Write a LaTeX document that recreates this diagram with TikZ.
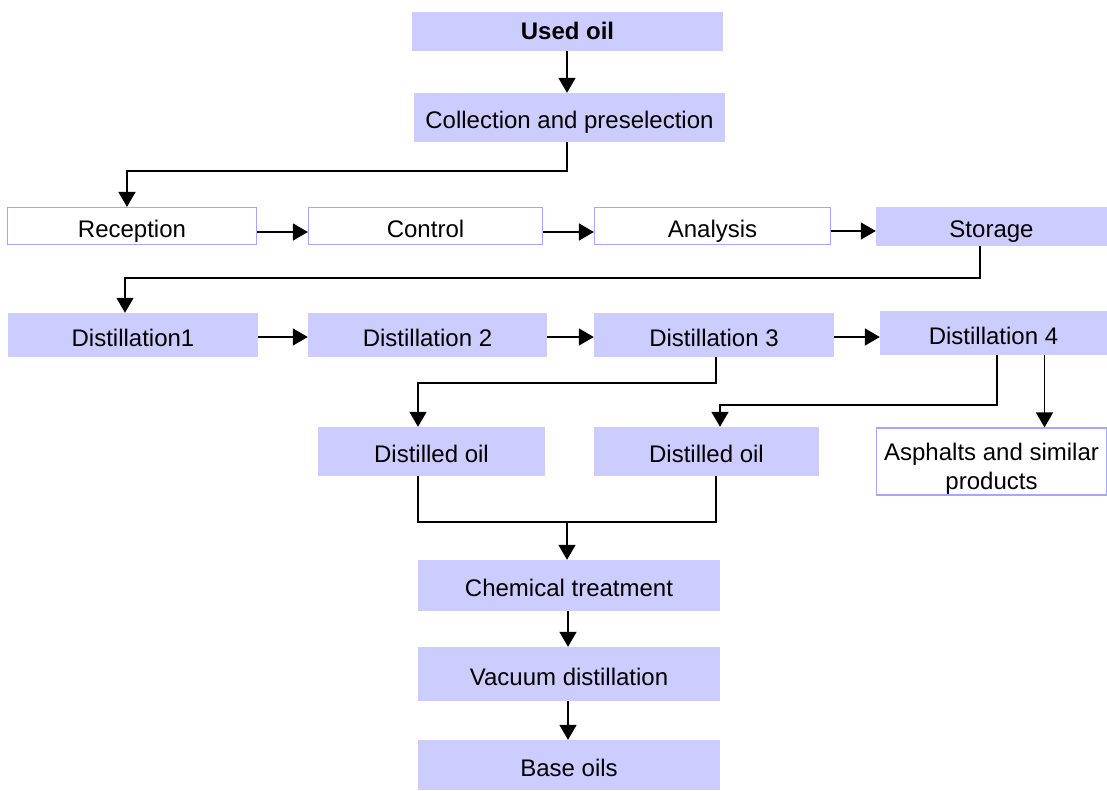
\documentclass[tikz,border=0pt]{standalone}
\usepackage{fontspec}
\setmainfont{Liberation Sans}
\usetikzlibrary{arrows.meta}
\definecolor{lav}{HTML}{CCCCFF}
\definecolor{lavline}{HTML}{A6A6FF}
\begin{document}
\begin{tikzpicture}[x=1pt,y=-1pt,
  every node/.style={font=\fontsize{24}{29}\selectfont, inner sep=0pt, text=black},
  oneline/.style={text height=22pt, text depth=0pt},
  fbox/.style={fill=lav, draw=none, oneline},
  wbox/.style={fill=white, draw=lavline, line width=1.2pt, oneline},
  wboxml/.style={fill=white, draw=lavline, line width=1.2pt, align=center},
  arr/.style={line width=1.6pt, -{Triangle[length=15pt,width=17pt]}},
  ln/.style={line width=1.6pt}]
\useasboundingbox (0,0) rectangle (1107,790);
\node[fbox, minimum width=311pt, minimum height=39pt, text depth=7pt] (used) at (567.5,31.5) {\textbf{Used oil}};
\node[fbox, minimum width=311pt, minimum height=49pt] (coll) at (569.5,117.5) {Collection and preselection};
\node[wbox, minimum width=249pt, minimum height=37pt] (rec) at (132,226) {Reception};
\node[wbox, minimum width=234pt, minimum height=37pt] (ctl) at (425.5,226) {Control};
\node[wbox, minimum width=236pt, minimum height=37pt] (ana) at (712.5,226) {Analysis};
\node[fbox, minimum width=231pt, minimum height=39pt] (sto) at (991.5,226.5) {Storage};
\node[fbox, minimum width=250pt, minimum height=44pt] (d1) at (133,335) {Distillation1};
\node[fbox, minimum width=239pt, minimum height=44pt] (d2) at (427.5,335) {Distillation 2};
\node[fbox, minimum width=240pt, minimum height=44pt] (d3) at (714,335) {Distillation 3};
\node[fbox, minimum width=227pt, minimum height=44pt] (d4) at (993.5,333) {Distillation 4};
\node[fbox, minimum width=227pt, minimum height=49pt] (do1) at (431.5,451.5) {Distilled oil};
\node[fbox, minimum width=225pt, minimum height=49pt] (do2) at (706.5,451.5) {Distilled oil};
\node[wboxml, minimum width=230pt, minimum height=67pt] (asp) at (991.5,461.5) {\rule{0pt}{31pt}Asphalts and similar\\products};
\node[fbox, minimum width=302pt, minimum height=51pt] (chem) at (569,585.5) {Chemical treatment};
\node[fbox, minimum width=302pt, minimum height=54pt] (vac) at (569,674) {Vacuum distillation};
\node[fbox, minimum width=302pt, minimum height=50pt] (base) at (569,765) {Base oils};
% connectors
\coordinate (j1) at (127,171);
\coordinate (j2) at (125,278);
\coordinate (j3) at (418,383);
\coordinate (j4) at (720,405);
\coordinate (j5) at (418,522);
\coordinate (j6) at (716,522);
\coordinate (j7) at (567,522);
\draw[arr] ([xshift=-0.5pt]used.south) -- ([xshift=-0.5pt]used.south |- coll.north);
\draw[arr] ([xshift=-2.5pt]coll.south) |- (j1) -- (j1 |- rec.north);
\draw[arr] ([yshift=-6pt]rec.east) -- ([yshift=-6pt]rec.east -| ctl.west);
\draw[arr] ([yshift=-6pt]ctl.east) -- ([yshift=-6pt]ctl.east -| ana.west);
\draw[arr] ([yshift=-5pt]ana.east) -- ([yshift=-5pt]ana.east -| sto.west);
\draw[arr] ([xshift=-11.5pt]sto.south) |- (j2) -- (j2 |- d1.north);
\draw[arr] ([yshift=-2pt]d1.east) -- ([yshift=-2pt]d1.east -| d2.west);
\draw[arr] ([yshift=-2pt]d2.east) -- ([yshift=-2pt]d2.east -| d3.west);
\draw[arr] ([yshift=-2pt]d3.east) -- ([yshift=-2pt]d3.east -| d4.west);
\draw[arr] ([xshift=2pt]d3.south) |- (j3) -- (j3 |- do1.north);
\draw[arr] ([xshift=3.5pt]d4.south) |- (j4) -- (j4 |- do2.north);
\draw[arr] ([xshift=51pt]d4.south) -- ([xshift=51pt]d4.south |- asp.north);
\draw[ln] (j5 |- do1.south) -- (j5) -- (j6) -- (j6 |- do2.south);
\draw[arr] (j7) -- (j7 |- chem.north);
\draw[arr] ([xshift=-1pt]chem.south) -- ([xshift=-1pt]chem.south |- vac.north);
\draw[arr] ([xshift=-1pt]vac.south) -- ([xshift=-1pt]vac.south |- base.north);
\end{tikzpicture}
\end{document}
